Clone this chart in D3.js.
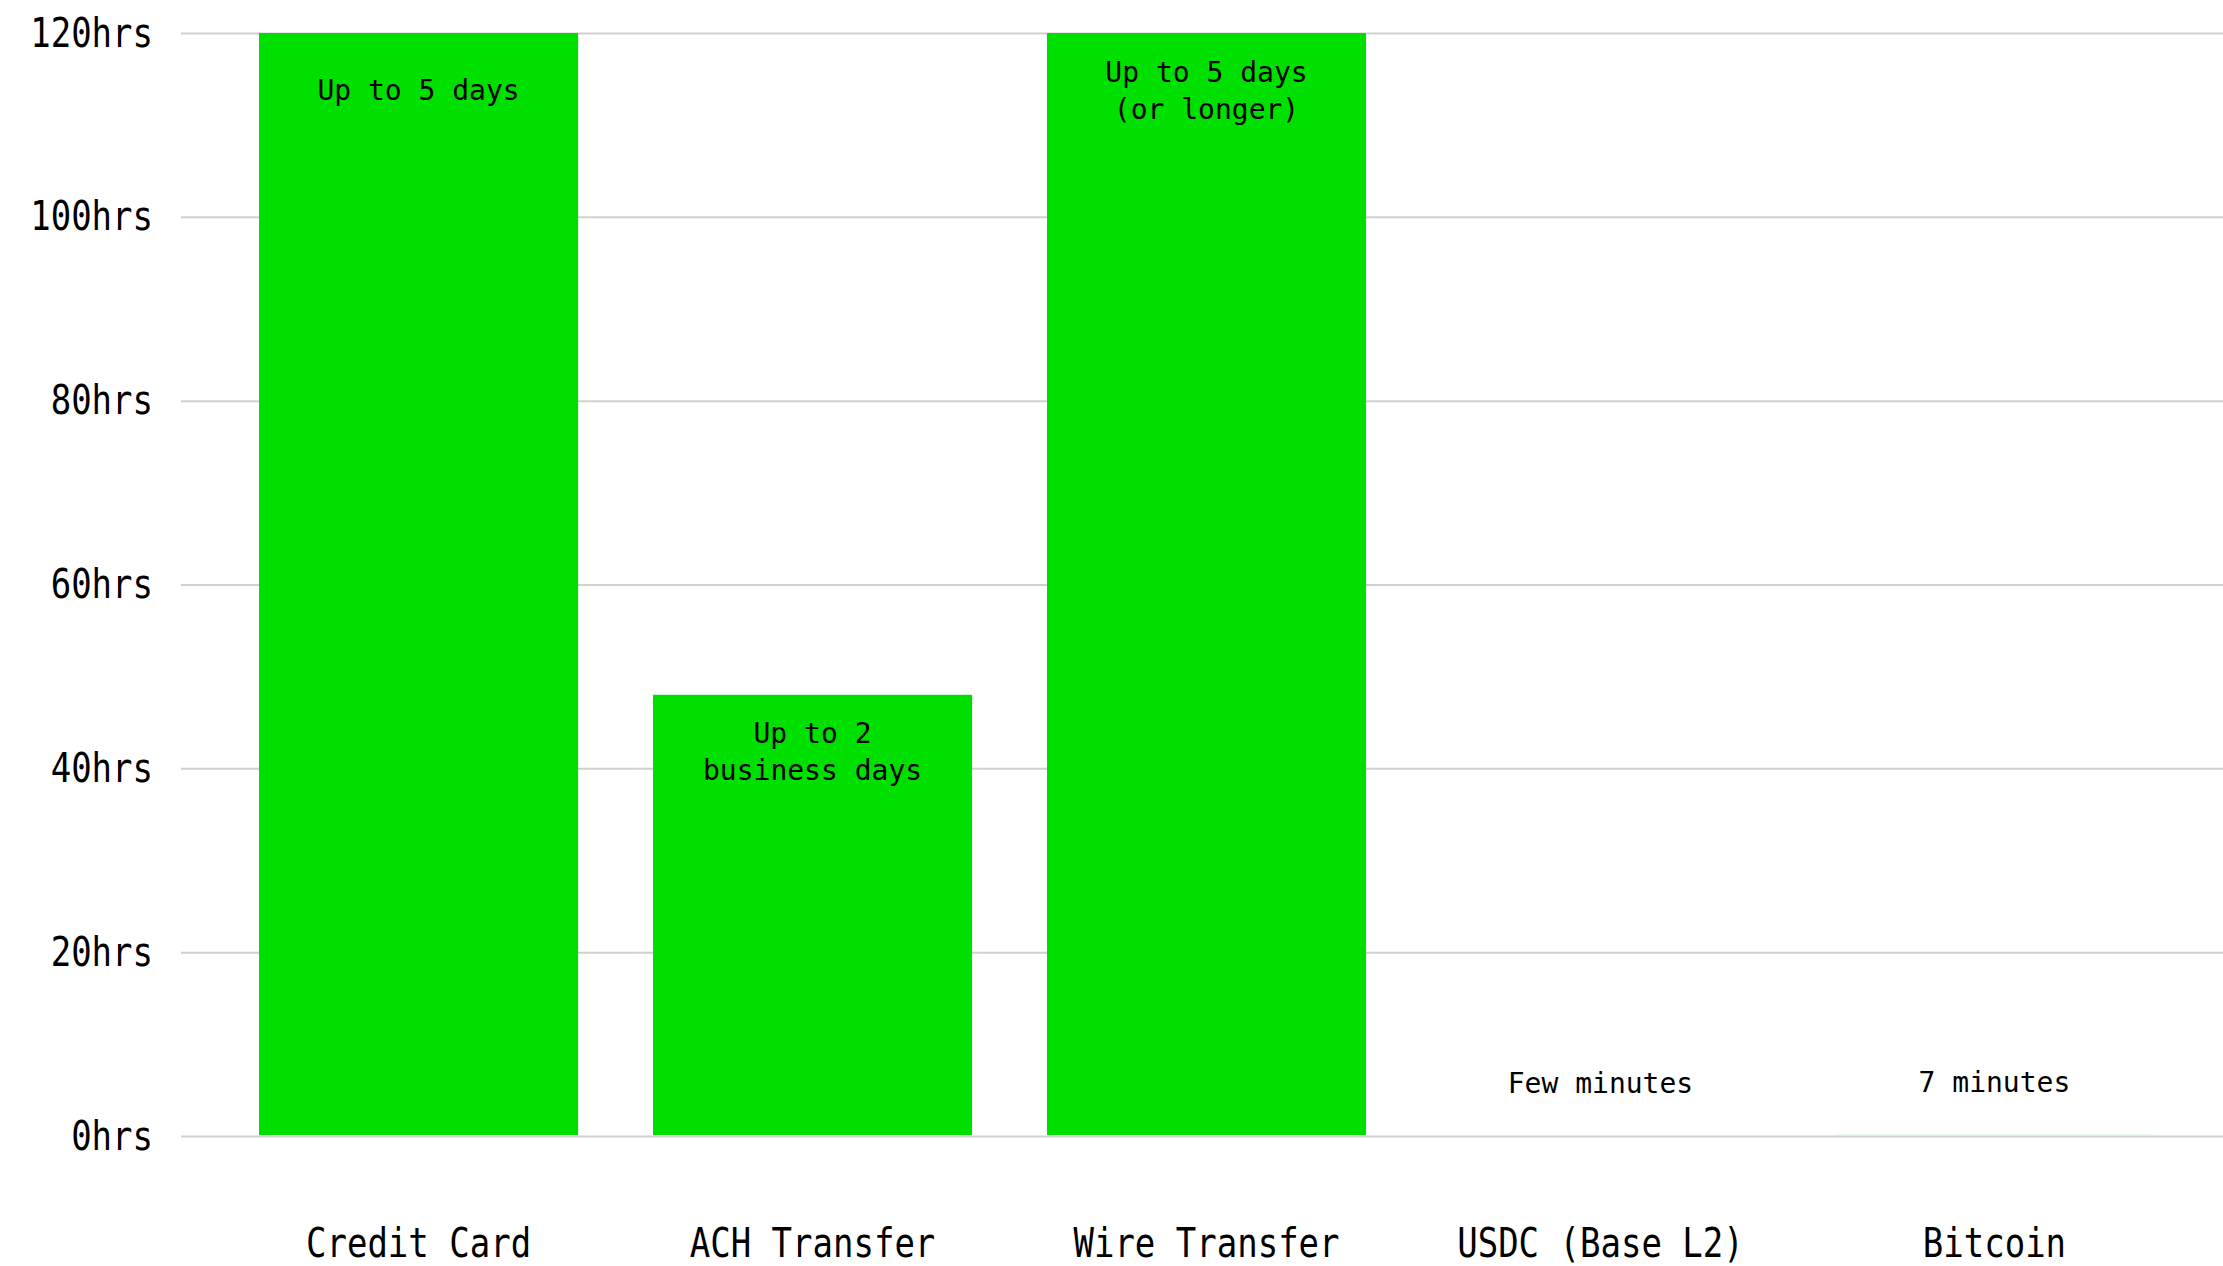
<!DOCTYPE html>
<html>
<head>
<meta charset="utf-8">
<script src="https://cdn.jsdelivr.net/npm/d3@7"></script>
<style>
  html, body { margin: 0; padding: 0; background: #fff; }
  text { font-family: "DejaVu Sans Mono", "Liberation Mono", monospace; fill: #000; }
</style>
</head>
<body>
<div id="chart"></div>
<script>
// data
var categories = ["Credit Card", "ACH Transfer", "Wire Transfer", "USDC (Base L2)", "Bitcoin"];
var hours = [120, 48, 120, 0.05, 0.117];
var barLabels = [
    ["Up to 5 days"],
    ["Up to 2", "business days"],
    ["Up to 5 days", "(or longer)"],
    ["Few minutes"],
    ["7 minutes"]
];
var yTicks = [0, 20, 40, 60, 80, 100, 120];

// set the dimensions and margins of the graph
var W = 2223, H = 1266;
var margin = { top: 33, right: -9, bottom: 130, left: 181 },
    width = W - margin.left - margin.right,
    height = H - margin.top - margin.bottom;

var svg = d3.select("#chart")
    .append("svg")
    .attr("width", W)
    .attr("height", H)
    .append("g")
    .attr("transform", "translate(" + margin.left + "," + margin.top + ")");

var x = d3.scaleBand()
    .domain(categories)
    .range([0, width])
    .paddingInner(0.19)
    .paddingOuter(0.198);

var y = d3.scaleLinear()
    .domain([0, 120])
    .range([height, 0]);

// gridlines + tick labels (gridlines stop at the svg edge)
var yAxis = svg.append("g")
    .call(d3.axisLeft(y).tickValues(yTicks).tickSize(-(W - margin.left)).tickFormat(function (d) { return d + "hrs"; }));
yAxis.select(".domain").remove();
yAxis.selectAll(".tick line")
    .attr("stroke", "#d0d0d0")
    .attr("stroke-width", 2);
yAxis.selectAll(".tick text")
    .attr("x", -28)
    .attr("dy", null)
    .attr("y", 0)
    .attr("transform", "translate(0,13) scale(1,1.2)")
    .style("font-family", "'DejaVu Sans Mono', monospace")
    .style("font-size", "34px")
    .attr("fill", "#000");

// bars (end at the top edge of the baseline)
svg.selectAll("rect.bar")
    .data(hours)
    .enter()
    .append("rect")
    .attr("class", "bar")
    .attr("x", function (d, i) { return x(categories[i]); })
    .attr("y", function (d) { return y(d); })
    .attr("width", x.bandwidth())
    .attr("height", function (d) { return Math.max(0, y(0) - 1 - y(d)); })
    .attr("fill", "#00e000");

// labels in / above bars
var lineH = 37, fs = 28;
hours.forEach(function (d, i) {
    var lines = barLabels[i];
    var cy = (y(0) - y(d) > 100) ? y(d) + 57 : y(d) - 53;
    var top = cy - (lines.length - 1) * lineH / 2;
    var t = svg.append("text")
        .attr("text-anchor", "middle")
        .style("font-size", fs + "px");
    lines.forEach(function (s, k) {
        t.append("tspan")
            .attr("x", x(categories[i]) + x.bandwidth() / 2)
            .attr("y", top + k * lineH + fs * 0.36)
            .text(s);
    });
});

// x axis labels
svg.append("g")
    .selectAll("text")
    .data(categories)
    .enter()
    .append("text")
    .attr("text-anchor", "middle")
    .attr("transform", function (d) {
        return "translate(" + (x(d) + x.bandwidth() / 2) + "," + (height + 121) + ") scale(1,1.2)";
    })
    .style("font-size", "34px")
    .text(function (d) { return d; });
</script>
</body>
</html>
